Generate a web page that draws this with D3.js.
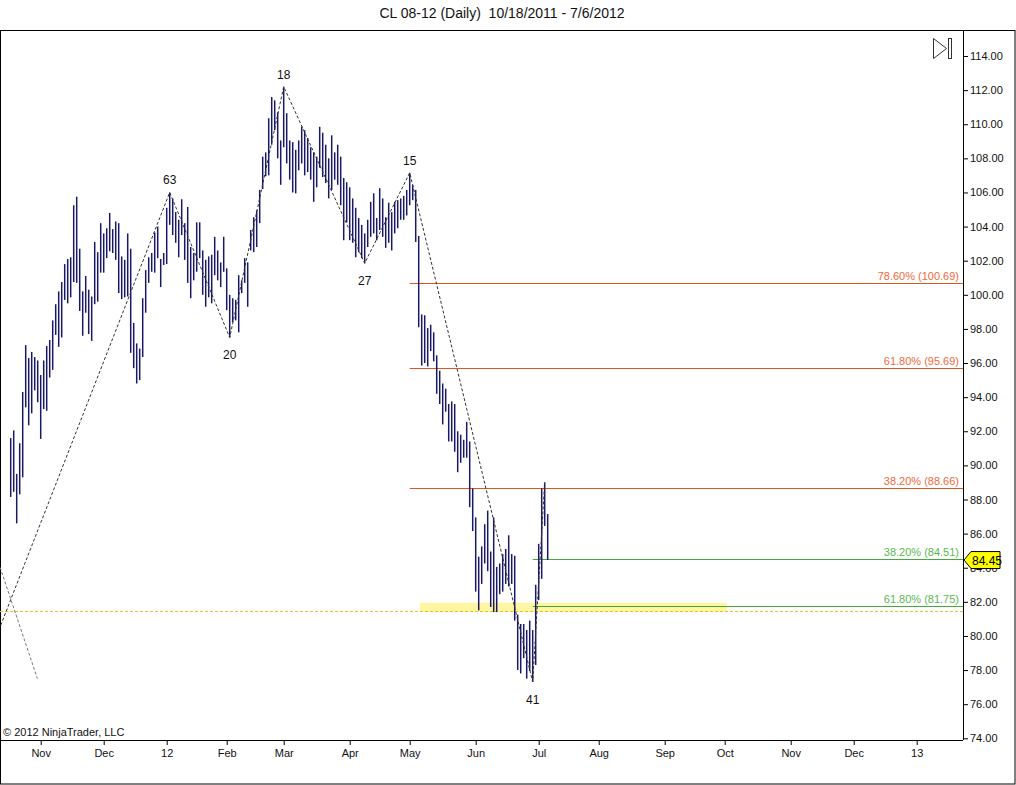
<!DOCTYPE html>
<html>
<head>
<meta charset="utf-8">
<script src="https://cdn.jsdelivr.net/npm/d3@7"></script>
<style>
  body { margin: 0; background: #fff; }
  svg text { font-family: "Liberation Sans", Arial, sans-serif; }
</style>
</head>
<body>
<div id="chart"></div>
<script>
// daily highs / lows, CL 08-12, 10/18/2011 .. 7/6/2012 (one entry per bar)
const highs = [
  91.6, 92.05, 89.5, 91.3, 94.3, 97.05, 96.3, 96.65, 96.35, 96.15,
  95.3, 96.15, 97.0, 97.35, 98.5, 99.45, 100.2, 100.75, 101.8, 102.1,
  102.2, 105.25, 105.75, 102.7, 100.2, 101.1, 100.3, 99.9, 103.1, 102.5,
  104.2, 103.6, 103.9, 104.8, 103.85, 104.3, 104.2, 102.25, 102.05, 103.6,
  102.7, 98.35, 97.15, 96.85, 99.8, 101.45, 102.2, 102.45, 103.65, 104.0,
  102.1, 102.45, 105.1, 106.0, 105.65, 104.85, 104.4, 105.6, 104.2, 105.15,
  102.8, 102.45, 104.25, 104.25, 102.6, 102.05, 102.25, 102.35, 103.4, 102.6,
  101.9, 103.4, 101.55, 100.0, 99.8, 99.7, 101.15, 100.85, 102.15, 101.9,
  103.8, 104.55, 104.95, 106.15, 108.1, 108.35, 110.35, 111.6, 111.4, 110.7,
  109.05, 112.2, 110.65, 109.05, 108.95, 108.5, 109.05, 109.85, 109.65, 109.2,
  108.65, 108.35, 108.1, 109.85, 109.5, 108.8, 108.0, 109.35, 108.35, 108.8,
  108.1, 106.85, 106.6, 106.3, 105.65, 105.1, 104.5, 104.1, 103.6, 104.4,
  105.45, 105.95, 104.5, 106.25, 105.65, 104.55, 105.4, 104.85, 105.45, 105.55,
  105.65, 105.8, 106.15, 107.15, 106.45, 106.15, 103.45, 98.85, 98.8, 98.05,
  98.25, 97.8, 96.45, 95.55, 94.8, 94.5, 93.6, 93.75, 93.6, 92.0,
  91.8, 91.5, 92.55, 91.4, 88.65, 86.95, 84.65, 85.25, 86.55, 87.35,
  84.95, 86.95, 84.05, 84.25, 84.8, 85.1, 85.9, 84.8, 84.7, 81.25,
  80.7, 80.7, 80.35, 80.9, 80.35, 83.0, 85.4, 88.65, 89.0, 87.15
];
const lows = [
  88.15, 88.45, 86.6, 88.3, 89.3, 93.4, 92.35, 93.05, 94.4, 93.7,
  91.55, 93.3, 93.2, 95.15, 95.6, 97.65, 96.95, 97.5, 99.7, 99.5,
  99.85, 100.75, 100.7, 99.05, 97.6, 98.95, 97.7, 97.3, 99.45, 99.6,
  101.3, 101.3, 102.15, 102.55, 102.45, 102.05, 100.1, 99.75, 99.85, 99.9,
  96.6, 95.7, 94.8, 95.0, 96.35, 98.95, 100.7, 101.35, 101.3, 102.15,
  100.45, 101.75, 101.8, 104.1, 103.5, 103.05, 102.2, 103.5, 102.05, 100.7,
  99.8, 100.85, 101.35, 102.15, 100.0, 99.3, 99.85, 99.5, 101.15, 100.85,
  100.45, 101.35, 99.1, 97.5, 98.4, 98.5, 97.8, 100.1, 100.7, 99.3,
  102.6, 102.5, 102.8, 104.2, 106.2, 106.95, 107.0, 108.8, 109.65, 108.0,
  106.45, 108.65, 107.7, 106.75, 106.0, 105.95, 107.3, 107.7, 107.0, 107.2,
  106.75, 105.45, 106.3, 107.45, 106.9, 106.55, 105.65, 106.15, 106.75, 106.45,
  105.25, 103.2, 104.25, 103.2, 103.05, 102.2, 102.5, 102.15, 101.85, 102.8,
  103.4, 103.6, 103.2, 103.8, 103.4, 102.75, 103.05, 102.6, 103.6, 103.9,
  104.4, 104.4, 104.65, 105.25, 105.55, 103.1, 98.1, 95.85, 96.0, 95.8,
  96.7, 96.1, 94.2, 93.6, 92.4, 93.15, 91.4, 91.4, 90.8, 89.6,
  90.15, 90.45, 90.45, 87.55, 86.15, 82.6, 81.5, 83.05, 84.25, 83.8,
  81.7, 81.4, 81.4, 82.45, 82.6, 83.05, 82.9, 83.05, 80.9, 78.0,
  77.8, 78.7, 77.5, 77.95, 77.3, 78.3, 82.1, 83.35, 86.45, 84.45
];
const lastClose = 84.45;

// zigzag swing points: bar index (0 = 10/18/2011) and price
const pivots = [
  { i: -10, price: 77.62, type: "low" },
  { i: 53, price: 106.0, type: "high" },
  { i: 73, price: 97.5, type: "low" },
  { i: 91, price: 112.2, type: "high" },
  { i: 118, price: 101.85, type: "low" },
  { i: 133, price: 107.15, type: "high" },
  { i: 174, price: 77.3, type: "low" },
  { i: 178, price: 89.0, type: "high" }
];

// fibonacci retracements
const fibDown = [
  { pct: "78.60%", value: 100.69 },
  { pct: "61.80%", value: 95.69 },
  { pct: "38.20%", value: 88.66 }
];
const fibDownStart = 133;
const fibUp = [
  { pct: "38.20%", value: 84.51 },
  { pct: "61.80%", value: 81.75 }
];
const fibUpStart = 174;

// support line, highlight box and the extra trend line on the left
const supportPrice = 81.45;
const zoneBars = [136.4, 238.8];
const zonePrices = [81.4, 81.95];
const trendLine = [{ i: -12, price: 88.47 }, { i: 8.9, price: 77.5 }];

// time axis labels (bar index of first bar in month)
const monthLabels = ["Nov", "Dec", "12", "Feb", "Mar", "Apr", "May", "Jun", "Jul", "Aug", "Sep", "Oct", "Nov", "Dec", "13"];
const monthBars = [10, 31, 52, 72, 91, 113, 133, 155, 176, 196, 218, 238, 260, 281, 302];
const priceTicks = d3.range(74, 115, 2);

const width = 1016;
const height = 785;
const plot = { left: 0, top: 30, right: 963, bottom: 740 };

const x = d3.scaleLinear().domain([0, 317]).range([10.7, 10.7 + 3 * 317]);
const y = d3.scaleLinear().domain([74, 114]).range([738.3, 56]);

const svg = d3.select("#chart").append("svg")
  .attr("width", width)
  .attr("height", height);

svg.append("defs").append("clipPath")
  .attr("id", "plot-clip")
  .append("rect")
  .attr("x", plot.left)
  .attr("y", plot.top)
  .attr("width", plot.right - plot.left)
  .attr("height", plot.bottom - plot.top);

// title (two spaces kept)
svg.append("text")
  .attr("x", 502)
  .attr("y", 18)
  .attr("text-anchor", "middle")
  .attr("font-size", "14px")
  .attr("fill", "#111")
  .style("white-space", "pre")
  .text("CL 08-12 (Daily)  10/18/2011 - 7/6/2012");

// frame
svg.append("rect")
  .attr("x", 0.5)
  .attr("y", plot.top + 0.5)
  .attr("width", width - 1.5)
  .attr("height", height - plot.top - 1.5)
  .attr("fill", "none")
  .attr("stroke", "#000");

const g = svg.append("g").attr("clip-path", "url(#plot-clip)");

// highlight zone + support line
g.append("rect")
  .attr("x", x(zoneBars[0]))
  .attr("y", y(zonePrices[1]))
  .attr("width", x(zoneBars[1]) - x(zoneBars[0]))
  .attr("height", y(zonePrices[0]) - y(zonePrices[1]))
  .attr("fill", "#fff59a")
  .attr("opacity", 0.9);

g.append("line")
  .attr("x1", plot.left)
  .attr("x2", plot.right)
  .attr("y1", Math.round(y(supportPrice)) + 0.5)
  .attr("y2", Math.round(y(supportPrice)) + 0.5)
  .attr("stroke", "#e8c02c")
  .attr("stroke-dasharray", "3,2");

// fib lines
g.selectAll(".fib-down")
  .data(fibDown)
  .enter().append("line")
  .attr("class", "fib-down")
  .attr("x1", x(fibDownStart))
  .attr("x2", plot.right)
  .attr("y1", d => Math.round(y(d.value)) + 0.5)
  .attr("y2", d => Math.round(y(d.value)) + 0.5)
  .attr("stroke", "#e0561f");

g.selectAll(".fib-up")
  .data(fibUp)
  .enter().append("line")
  .attr("class", "fib-up")
  .attr("x1", x(fibUpStart))
  .attr("x2", plot.right)
  .attr("y1", d => Math.round(y(d.value)) + 0.5)
  .attr("y2", d => Math.round(y(d.value)) + 0.5)
  .attr("stroke", "#44aa3c");

g.selectAll(".fib-down-label")
  .data(fibDown)
  .enter().append("text")
  .attr("x", plot.right - 4)
  .attr("y", d => y(d.value) - 3)
  .attr("text-anchor", "end")
  .attr("font-size", "11px")
  .attr("fill", "#ee6a40")
  .text(d => `${d.pct} (${d.value.toFixed(2)})`);

g.selectAll(".fib-up-label")
  .data(fibUp)
  .enter().append("text")
  .attr("x", plot.right - 4)
  .attr("y", d => y(d.value) - 3)
  .attr("text-anchor", "end")
  .attr("font-size", "11px")
  .attr("fill", "#5cb852")
  .text(d => `${d.pct} (${d.value.toFixed(2)})`);

// bars (high-low)
g.selectAll(".bar")
  .data(highs)
  .enter().append("line")
  .attr("class", "bar")
  .attr("x1", (d, i) => x(i))
  .attr("x2", (d, i) => x(i))
  .attr("y1", d => y(d))
  .attr("y2", (d, i) => y(lows[i]))
  .attr("stroke", "#191966")
  .attr("stroke-width", 1.5);

// zigzag
const line = d3.line().x(d => x(d.i)).y(d => y(d.price));
g.append("path")
  .datum(pivots)
  .attr("d", line)
  .attr("fill", "none")
  .attr("stroke", "#333")
  .attr("stroke-dasharray", "3,2");

g.append("path")
  .datum(trendLine)
  .attr("d", line)
  .attr("fill", "none")
  .attr("stroke", "#777")
  .attr("stroke-dasharray", "3,2");

// swing length labels
g.selectAll(".pivot-label")
  .data(pivots.slice(1, -1).map((p, k) => ({ ...p, bars: p.i - pivots[k].i })))
  .enter().append("text")
  .attr("x", d => x(d.i))
  .attr("y", d => d.type === "high" ? y(d.price) - 8 : y(d.price) + 22)
  .attr("text-anchor", "middle")
  .attr("font-size", "12px")
  .attr("fill", "#111")
  .text(d => d.bars);

// axes
const yAxis = svg.append("g")
  .attr("transform", `translate(${plot.right},0)`)
  .call(d3.axisRight(y).tickValues(priceTicks).tickSize(5).tickPadding(2).tickFormat(d3.format(".2f")));
yAxis.select(".domain").attr("d", `M0.5,${plot.top}V${plot.bottom}`);
yAxis.selectAll("text").attr("font-size", "11px").attr("fill", "#111");

const xAxis = svg.append("g")
  .attr("transform", `translate(0,${plot.bottom})`)
  .call(d3.axisBottom(x).tickValues(monthBars).tickSize(5).tickPadding(4).tickFormat((d, k) => monthLabels[k]));
xAxis.select(".domain").attr("d", `M${plot.left},0.5H${plot.right}`);
xAxis.selectAll("text").attr("font-size", "11px").attr("fill", "#111");

// last price marker (covers the top of the 84.00 label, as in NinjaTrader)
const my = y(lastClose);
svg.append("path")
  .attr("d", `M${plot.right + 1},${my} L${plot.right + 8},${my - 8.5} H1000 V${my + 8.5} H${plot.right + 8} Z`)
  .attr("fill", "#ffff00")
  .attr("stroke", "#000");
svg.append("text")
  .attr("x", plot.right + 9)
  .attr("y", my + 4.5)
  .attr("font-size", "12px")
  .attr("fill", "#000")
  .text(lastClose.toFixed(2));

// copyright
svg.append("text")
  .attr("x", 3)
  .attr("y", 736)
  .attr("font-size", "11px")
  .attr("fill", "#111")
  .text("\u00a9 2012 NinjaTrader, LLC");

// scroll-to-end icon
const icon = svg.append("g").attr("fill", "none").attr("stroke", "#333");
icon.append("path").attr("d", "M933.5,38.5 L946.5,48.5 L933.5,58.5 Z");
icon.append("rect").attr("x", 948.5).attr("y", 38.5).attr("width", 3).attr("height", 20);
</script>
</body>
</html>
